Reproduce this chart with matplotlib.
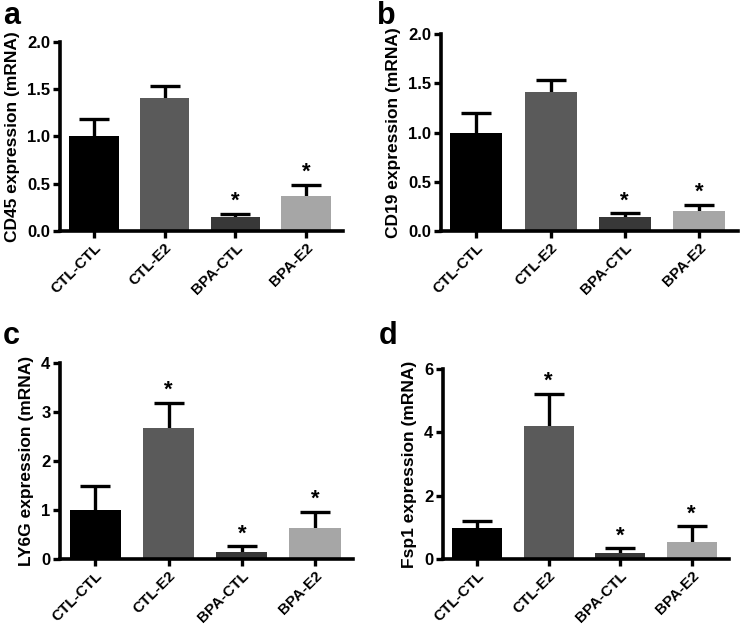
import matplotlib
matplotlib.use("Agg")
import matplotlib.pyplot as plt

plt.rcParams["font.family"] = ["Liberation Sans", "DejaVu Sans"]
plt.rcParams["font.weight"] = "bold"

groups = ["CTL-CTL", "CTL-E2", "BPA-CTL", "BPA-E2"]
bar_colors = ["#000000", "#5a5a5a", "#383838", "#a6a6a6"]

# panel a: CD45
cd45_mean = [1.00, 1.41, 0.15, 0.37]
cd45_err = [0.18, 0.12, 0.03, 0.12]
cd45_star = [False, False, True, True]

# panel b: CD19
cd19_mean = [1.00, 1.41, 0.14, 0.20]
cd19_err = [0.20, 0.12, 0.04, 0.07]
cd19_star = [False, False, True, True]

# panel c: LY6G
ly6g_mean = [1.00, 2.67, 0.14, 0.63]
ly6g_err = [0.48, 0.51, 0.12, 0.34]
ly6g_star = [False, True, True, True]

# panel d: Fsp1
fsp1_mean = [1.00, 4.21, 0.19, 0.54]
fsp1_err = [0.21, 1.01, 0.15, 0.50]
fsp1_star = [False, True, True, True]


def draw_panel(ax, means, errs, stars, ylabel, ymax, yticks, ticklabels, star_off):
    x = list(range(len(groups)))
    ax.bar(x, means, width=0.7, color=bar_colors, zorder=2)
    # error bars sit behind the bars so only the upper half shows
    for xi, m, e in zip(x, means, errs):
        ax.errorbar(xi, m, yerr=[[e], [e]], fmt="none", ecolor="black",
                    elinewidth=2.4, capsize=11, capthick=2.4, zorder=1)
    for xi, m, e, s in zip(x, means, errs, stars):
        if s:
            ax.text(xi, m + e + star_off, "*", ha="center", va="bottom",
                    fontsize=16, fontweight="bold")
    ax.set_xlim(-0.48, 3.52)
    ax.set_ylim(0, ymax)
    ax.set_yticks(yticks)
    ax.set_yticklabels(ticklabels, fontsize=12, fontweight="bold")
    ax.set_xticks(x)
    ax.set_xticklabels(groups, rotation=45, ha="right", rotation_mode="anchor",
                       fontsize=11, fontweight="bold")
    ax.set_ylabel(ylabel, fontsize=12.5, fontweight="bold", labelpad=5)
    for side in ["top", "right"]:
        ax.spines[side].set_visible(False)
    for side in ["left", "bottom"]:
        ax.spines[side].set_linewidth(2.6)
    ax.tick_params(axis="both", width=2.4, length=5, pad=2)


fig = plt.figure(figsize=(7.42, 6.42), dpi=100)

ax_a = fig.add_axes([0.081, 0.640, 0.381, 0.295])
ax_b = fig.add_axes([0.594, 0.640, 0.400, 0.307])
ax_c = fig.add_axes([0.081, 0.129, 0.395, 0.306])
ax_d = fig.add_axes([0.597, 0.129, 0.385, 0.296])

draw_panel(ax_a, cd45_mean, cd45_err, cd45_star, "CD45 expression (mRNA)",
           2.0, [0, 0.5, 1.0, 1.5, 2.0], ["0.0", "0.5", "1.0", "1.5", "2.0"], 0.02)
draw_panel(ax_b, cd19_mean, cd19_err, cd19_star, "CD19 expression (mRNA)",
           2.0, [0, 0.5, 1.0, 1.5, 2.0], ["0.0", "0.5", "1.0", "1.5", "2.0"], 0.02)
draw_panel(ax_c, ly6g_mean, ly6g_err, ly6g_star, "LY6G expression (mRNA)",
           4, [0, 1, 2, 3, 4], ["0", "1", "2", "3", "4"], 0.04)
draw_panel(ax_d, fsp1_mean, fsp1_err, fsp1_star, "Fsp1 expression (mRNA)",
           6, [0, 2, 4, 6], ["0", "2", "4", "6"], 0.06)

for lbl, xx, yy in [("a", 0.004, 0.998), ("b", 0.508, 0.998),
                    ("c", 0.004, 0.500), ("d", 0.510, 0.500)]:
    fig.text(xx, yy, lbl, fontsize=22, fontweight="bold", ha="left", va="top")

fig.savefig("out.png", dpi=100)
